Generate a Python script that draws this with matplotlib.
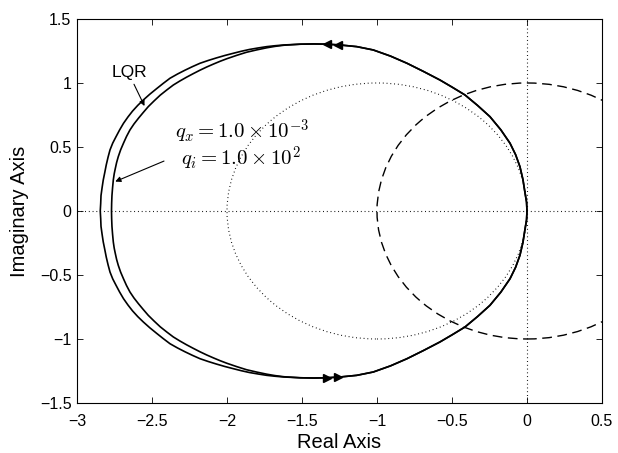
import numpy as np
import matplotlib.pyplot as plt
from matplotlib.patches import Circle

plt.rcParams.update({
    'font.family': ['Liberation Sans', 'DejaVu Sans'],
    'mathtext.fontset': 'cm',
    'axes.linewidth': 0.8,
})

# right half of the loop, common to both curves (origin -> top)
shared_re = [0.0, -0.003, -0.013, -0.027, -0.047, -0.076, -0.113, -0.175, -0.247,
             -0.33, -0.413, -0.50, -0.58, -0.69, -0.80, -0.91, -1.025, -1.135,
             -1.247, -1.335, -1.42, -1.513]
shared_im = [0.0, 0.07, 0.14, 0.245, 0.346, 0.44, 0.529, 0.635, 0.737,
             0.825, 0.906, 0.968, 1.023, 1.09, 1.154, 1.21, 1.258, 1.284,
             1.297, 1.303, 1.305, 1.303]

# left part, LQR (outer) curve, upper half
lqr_re = [-1.62, -1.68, -1.735, -1.79, -1.85, -1.904, -1.958, -2.014, -2.07, -2.125,
          -2.18, -2.23, -2.28, -2.33, -2.38, -2.425, -2.47, -2.515, -2.558, -2.595,
          -2.63, -2.66, -2.69, -2.716, -2.74, -2.762, -2.78, -2.793, -2.805, -2.815,
          -2.825, -2.833, -2.84, -2.842, -2.845]
lqr_im = [1.297, 1.291, 1.284, 1.274, 1.262, 1.248, 1.232, 1.215, 1.196, 1.176,
          1.154, 1.128, 1.10, 1.07, 1.037, 0.997, 0.955, 0.912, 0.867, 0.825,
          0.78, 0.735, 0.685, 0.633, 0.58, 0.53, 0.477, 0.42, 0.36, 0.30,
          0.242, 0.18, 0.12, 0.06, 0.0]

# left part, qx/qi (inner) curve, upper half
qi_re = [-1.62, -1.68, -1.735, -1.80, -1.87, -1.935, -2.00, -2.045, -2.09, -2.135,
         -2.18, -2.225, -2.27, -2.315, -2.358, -2.402, -2.445, -2.486, -2.525, -2.558,
         -2.59, -2.62, -2.647, -2.67, -2.69, -2.709, -2.725, -2.736, -2.745, -2.752,
         -2.758, -2.763, -2.767, -2.769, -2.77]
qi_im = [1.295, 1.286, 1.275, 1.259, 1.24, 1.216, 1.19, 1.17, 1.148, 1.125,
         1.10, 1.073, 1.045, 1.015, 0.984, 0.945, 0.905, 0.86, 0.815, 0.77,
         0.725, 0.68, 0.633, 0.582, 0.53, 0.478, 0.424, 0.378, 0.33, 0.29,
         0.242, 0.18, 0.12, 0.06, 0.0]

# direction arrows (centres)
arrow_top_re = [-1.33, -1.26]
arrow_top_im = [1.302, 1.298]
arrow_bot_re = [-1.33, -1.26]
arrow_bot_im = [-1.302, -1.298]

# reference circles: (centre, radius)
dotted_circle = ((-1.0, 0.0), 1.0)
dashed_circle = ((0.0, 0.0), 1.0)

xticks = [-3, -2.5, -2, -1.5, -1, -0.5, 0, 0.5]
yticks = [-1.5, -1, -0.5, 0, 0.5, 1, 1.5]


def closed_loop(re, im):
    re = np.array(shared_re + re)
    im = np.array(shared_im + im)
    # mirror the upper half to get the negative-frequency branch
    re_full = np.concatenate([re, re[::-1][1:]])
    im_full = np.concatenate([im, -im[::-1][1:]])
    return re_full, im_full


fig = plt.figure(figsize=(6.18, 4.53), dpi=100)
ax = fig.add_axes([0.1246, 0.1104, 0.8495, 0.8477])

dot = (0, (0.8, 2.6))
ax.axhline(0, color='k', lw=0.8, ls=dot)
ax.axvline(0, color='k', lw=0.8, ls=dot)

ax.add_patch(Circle(dotted_circle[0], dotted_circle[1], fill=False, ec='k', lw=0.8, ls=dot))
ax.add_patch(Circle(dashed_circle[0], dashed_circle[1], fill=False, ec='k', lw=1.0,
                    ls=(0, (7, 4))))

for re, im in [(lqr_re, lqr_im), (qi_re, qi_im)]:
    x, y = closed_loop(re, im)
    ax.plot(x, y, color='k', lw=1.2)

ax.plot(arrow_top_re, arrow_top_im, ls='none', marker='<', ms=6, color='k')
ax.plot(arrow_bot_re, arrow_bot_im, ls='none', marker='>', ms=6, color='k')

# annotations
arrow_kw = dict(arrowstyle='-|>', color='k', lw=0.8, mutation_scale=8, shrinkA=0, shrinkB=0)
ax.text(-2.65, 1.08, 'LQR', fontsize=12.5, ha='center', va='center')
ax.annotate('', xy=(-2.55, 0.82), xytext=(-2.62, 0.99), arrowprops=arrow_kw)

ax.text(-1.90, 0.565, r'$q_x = 1.0 \times 10^{-3}$', fontsize=15, ha='center', va='baseline')
ax.text(-1.91, 0.35, r'$q_i = 1.0 \times 10^{2}$', fontsize=15, ha='center', va='baseline')
ax.annotate('', xy=(-2.745, 0.23), xytext=(-2.42, 0.39), arrowprops=arrow_kw)

ax.set_xlim(-3, 0.5)
ax.set_ylim(-1.5, 1.5)
ax.set_xticks(xticks)
ax.set_yticks(yticks)
ax.set_xticklabels([f'{t:g}'.replace('-', '\u2212') for t in xticks])
ax.set_yticklabels([f'{t:g}'.replace('-', '\u2212') for t in yticks])
ax.tick_params(direction='in', top=True, right=True, length=4, width=0.6,
               labelsize=11.5)
ax.tick_params(axis='x', pad=8)
ax.tick_params(axis='y', pad=4)

ax.set_xlabel('Real Axis', fontsize=14.5, labelpad=3)
ax.set_ylabel('Imaginary Axis', fontsize=14.5, labelpad=8)

fig.savefig('out.png', dpi=100)
